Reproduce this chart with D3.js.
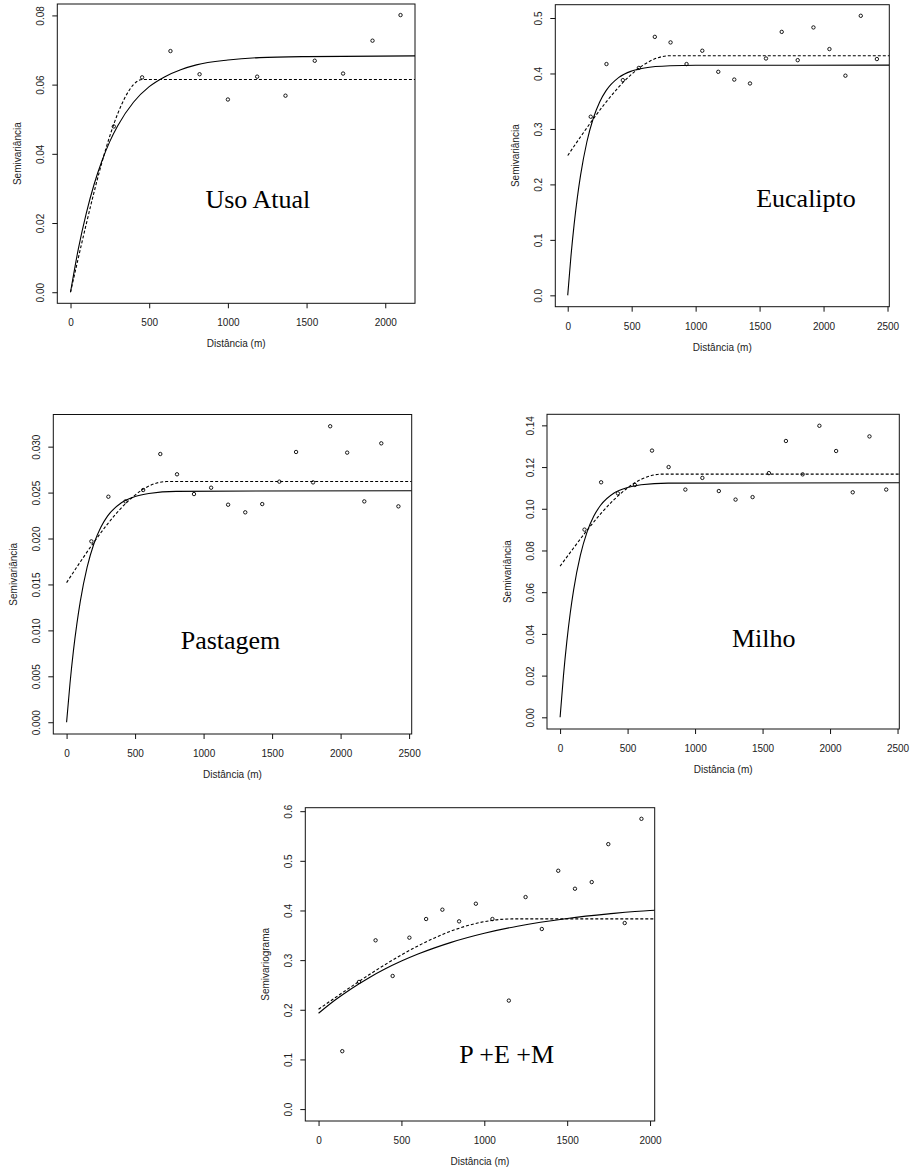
<!DOCTYPE html>
<html>
<head>
<meta charset="utf-8">
<script src="https://cdn.jsdelivr.net/npm/d3@7"></script>
<style>
  html, body { margin: 0; padding: 0; background: #fff; }
  svg { display: block; }
  .tick-label { font-family: "Liberation Sans", Arial, Helvetica, sans-serif; font-size: 10px; fill: #222; }
  .axis-title { font-family: "Liberation Sans", Arial, Helvetica, sans-serif; font-size: 10px; fill: #222; }
  .panel-title { font-family: "Liberation Serif", "Times New Roman", serif; font-size: 26px; fill: #000; }
</style>
</head>
<body>
<svg id="chart" width="911" height="1174"></svg>
<script>
// ---------------- DATA ----------------
// Uso Atual
const usoDist  = [275, 455, 635, 820, 1000, 1186, 1366, 1552, 1732, 1919, 2097];
const usoGamma = [0.0479, 0.0621, 0.0697, 0.0630, 0.0557, 0.0623, 0.0568, 0.0669, 0.0632, 0.0727, 0.0801];
const usoExpD  = [0, 50, 100, 150, 200, 250, 300, 400, 500, 600, 700, 800, 1000, 1200, 1500, 2189];
const usoExpG  = [0, 0.0126, 0.0228, 0.0312, 0.0380, 0.0436, 0.0481, 0.0549, 0.0594, 0.0623, 0.0643, 0.0657, 0.0671, 0.0678, 0.0681, 0.0683];
const usoSphD  = [0, 50, 100, 150, 200, 250, 300, 350, 400, 460, 2189];
const usoSphG  = [0, 0.0100, 0.0197, 0.0290, 0.0376, 0.0452, 0.0516, 0.0566, 0.0600, 0.0615, 0.0615];

// Eucalipto
const eucDist  = [180, 303, 431, 556, 681, 804, 929, 1052, 1177, 1302, 1425, 1550, 1673, 1798, 1921, 2046, 2171, 2291, 2417];
const eucGamma = [0.322, 0.417, 0.388, 0.410, 0.466, 0.456, 0.417, 0.441, 0.403, 0.389, 0.382, 0.427, 0.475, 0.424, 0.483, 0.444, 0.396, 0.504, 0.426];
const eucExpD  = [0, 25, 50, 75, 100, 150, 200, 250, 300, 400, 500, 600, 800, 1000, 2514];
const eucExpG  = [0, 0.0696, 0.1274, 0.1756, 0.2157, 0.2769, 0.3193, 0.3487, 0.3690, 0.3929, 0.4044, 0.4099, 0.4138, 0.4147, 0.415];
const eucSphD  = [0, 100, 200, 300, 400, 500, 600, 700, 800, 2514];
const eucSphG  = [0.252, 0.2856, 0.3181, 0.3485, 0.3758, 0.3988, 0.4165, 0.4280, 0.432, 0.432];

// Pastagem
const pasDist  = [181, 305, 430, 559, 684, 806, 930, 1055, 1179, 1304, 1428, 1553, 1675, 1799, 1924, 2048, 2173, 2297, 2422];
const pasGamma = [0.01969, 0.02455, 0.02404, 0.02528, 0.02920, 0.02699, 0.02484, 0.02553, 0.02368, 0.02285, 0.02375, 0.02619, 0.02942, 0.02611, 0.03222, 0.02935, 0.02404, 0.03036, 0.02350];
const pasExpD  = [0, 25, 50, 75, 100, 150, 200, 250, 300, 400, 500, 600, 800, 2519];
const pasExpG  = [0, 0.00425, 0.00779, 0.01070, 0.01316, 0.01688, 0.01946, 0.02123, 0.02246, 0.02389, 0.02457, 0.02490, 0.02513, 0.0252];
const pasSphD  = [0, 100, 200, 300, 400, 500, 600, 730, 2519];
const pasSphG  = [0.0152, 0.01745, 0.01961, 0.02160, 0.02334, 0.02473, 0.02571, 0.0262, 0.0262];

// Milho
const milDist  = [181, 304, 428, 554, 681, 804, 928, 1054, 1176, 1300, 1426, 1547, 1673, 1797, 1921, 2045, 2168, 2292, 2416];
const milGamma = [0.0900, 0.1127, 0.1074, 0.1114, 0.1279, 0.1200, 0.1092, 0.1148, 0.1085, 0.1044, 0.1056, 0.1171, 0.1325, 0.1165, 0.1398, 0.1277, 0.1079, 0.1347, 0.1092];
const milExpD  = [0, 25, 50, 75, 100, 150, 200, 250, 300, 400, 500, 600, 800, 2513];
const milExpG  = [0, 0.0200, 0.0364, 0.0499, 0.0610, 0.0776, 0.0889, 0.0965, 0.1017, 0.1076, 0.1102, 0.1115, 0.1123, 0.1125];
const milSphD  = [0, 100, 200, 300, 400, 500, 600, 752, 2513];
const milSphG  = [0.0725, 0.0812, 0.0897, 0.0975, 0.1044, 0.1100, 0.1141, 0.1166, 0.1166];

// P +E +M
const pemDist  = [143, 244, 344, 447, 548, 649, 747, 848, 949, 1049, 1148, 1249, 1347, 1446, 1547, 1648, 1748, 1847, 1948];
const pemGamma = [0.1166, 0.2561, 0.3399, 0.2681, 0.3452, 0.3828, 0.4016, 0.3781, 0.4136, 0.3828, 0.2185, 0.4270, 0.3627, 0.4800, 0.4438, 0.4572, 0.5336, 0.3747, 0.5846];
const pemExpD  = [0, 100, 200, 300, 400, 500, 600, 700, 800, 1000, 1200, 1500, 1750, 2000, 2028];
const pemExpG  = [0.193, 0.2196, 0.2430, 0.2637, 0.2820, 0.2981, 0.3123, 0.3247, 0.3358, 0.3541, 0.3683, 0.3839, 0.3931, 0.4000, 0.4004];
const pemSphD  = [0, 100, 200, 300, 400, 500, 600, 700, 800, 900, 1000, 1100, 1170, 2028];
const pemSphG  = [0.201, 0.2243, 0.2472, 0.2695, 0.2907, 0.3106, 0.3287, 0.3448, 0.3586, 0.3696, 0.3775, 0.3821, 0.383, 0.383];

// Axis ranges and ticks
const usoXDomain = [-84, 2189], usoYDomain = [-0.0032, 0.0833];
const eucXDomain = [-97, 2514], eucYDomain = [-0.0205, 0.524];
const pasXDomain = [-97, 2519], pasYDomain = [-0.00128, 0.0335];
const milXDomain = [-97, 2513], milYDomain = [-0.0056, 0.1453];
const pemXDomain = [-80, 2028], pemYDomain = [-0.024, 0.607];

const xTicks2000 = [0, 500, 1000, 1500, 2000];
const xTicks2500 = [0, 500, 1000, 1500, 2000, 2500];
const usoYTicks = [0, 0.02, 0.04, 0.06, 0.08];
const eucYTicks = [0, 0.1, 0.2, 0.3, 0.4, 0.5];
const pasYTicks = [0, 0.005, 0.010, 0.015, 0.020, 0.025, 0.030];
const milYTicks = [0, 0.02, 0.04, 0.06, 0.08, 0.10, 0.12, 0.14];
const pemYTicks = [0, 0.1, 0.2, 0.3, 0.4, 0.5, 0.6];

const panelTitles = ["Uso Atual", "Eucalipto", "Pastagem", "Milho", "P +E +M"];
const yTitles = ["Semivariância", "Semivariância", "Semivariância", "Semivariância", "Semivariograma"];
const xTitle = "Distância (m)";

// ---------------- LAYOUT ----------------
const panels = [
  { title: panelTitles[0], yTitle: yTitles[0], dist: usoDist, gamma: usoGamma, expD: usoExpD, expG: usoExpG, sphD: usoSphD, sphG: usoSphG,
    xDom: usoXDomain, yDom: usoYDomain, xT: xTicks2000, yT: usoYTicks, yFmt: d3.format(".2f"),
    box: { l: 57.3, t: 4, r: 415, b: 303.3 }, tp: { x: 257.8, y: 208.3 } },
  { title: panelTitles[1], yTitle: yTitles[1], dist: eucDist, gamma: eucGamma, expD: eucExpD, expG: eucExpG, sphD: eucSphD, sphG: eucSphG,
    xDom: eucXDomain, yDom: eucYDomain, xT: xTicks2500, yT: eucYTicks, yFmt: d3.format(".1f"),
    box: { l: 555.3, t: 4.7, r: 889.3, b: 306.7 }, tp: { x: 806, y: 207.3 } },
  { title: panelTitles[2], yTitle: yTitles[2], dist: pasDist, gamma: pasGamma, expD: pasExpD, expG: pasExpG, sphD: pasSphD, sphG: pasSphG,
    xDom: pasXDomain, yDom: pasYDomain, xT: xTicks2500, yT: pasYTicks, yFmt: d3.format(".3f"),
    box: { l: 53.3, t: 414.5, r: 411.7, b: 734 }, tp: { x: 230.5, y: 649.3 } },
  { title: panelTitles[3], yTitle: yTitles[3], dist: milDist, gamma: milGamma, expD: milExpD, expG: milExpG, sphD: milSphD, sphG: milSphG,
    xDom: milXDomain, yDom: milYDomain, xT: xTicks2500, yT: milYTicks, yFmt: d3.format(".2f"),
    box: { l: 547, t: 414.3, r: 899.3, b: 729 }, tp: { x: 763.7, y: 646.7 } },
  { title: panelTitles[4], yTitle: yTitles[4], dist: pemDist, gamma: pemGamma, expD: pemExpD, expG: pemExpG, sphD: pemSphD, sphG: pemSphG,
    xDom: pemXDomain, yDom: pemYDomain, xT: xTicks2000, yT: pemYTicks, yFmt: d3.format(".1f"),
    box: { l: 305.3, t: 807.7, r: 654.7, b: 1121 }, tp: { x: 506.7, y: 1063.3 } }
];

const svg = d3.select("#chart");

panels.forEach((p, i) => {
  const b = p.box;
  const x = d3.scaleLinear().domain(p.xDom).range([b.l, b.r]);
  const y = d3.scaleLinear().domain(p.yDom).range([b.b, b.t]);
  const g = svg.append("g");

  const clipId = "clip" + i;
  svg.append("clipPath").attr("id", clipId)
    .append("rect").attr("x", b.l).attr("y", b.t).attr("width", b.r - b.l).attr("height", b.b - b.t);

  // box
  g.append("rect").attr("x", b.l).attr("y", b.t).attr("width", b.r - b.l).attr("height", b.b - b.t)
    .attr("fill", "none").attr("stroke", "#111").attr("stroke-width", 1);

  // x axis ticks
  const xa = g.append("g").attr("transform", `translate(0,${b.b})`)
    .call(d3.axisBottom(x).tickValues(p.xT).tickSize(5).tickPadding(0).tickFormat(d3.format("d")));
  xa.select(".domain").remove();
  xa.selectAll("line").attr("stroke", "#111");
  xa.selectAll("text").attr("class", "tick-label").attr("y", 23).attr("dy", null)
    .style("font-size", null).style("font-family", null);
  xa.attr("font-size", null).attr("font-family", null);

  // y axis ticks
  const ya = g.append("g").attr("transform", `translate(${b.l},0)`)
    .call(d3.axisLeft(y).tickValues(p.yT).tickSize(5).tickFormat(p.yFmt));
  ya.select(".domain").remove();
  ya.selectAll("line").attr("stroke", "#111");
  ya.attr("font-size", null).attr("font-family", null);
  ya.selectAll("text").attr("class", "tick-label")
    .attr("x", null).attr("dy", null)
    .attr("text-anchor", "middle")
    .attr("transform", "translate(-13,0) rotate(-90)");

  // axis titles
  g.append("text").attr("class", "axis-title")
    .attr("x", (b.l + b.r) / 2).attr("y", b.b + 44)
    .attr("text-anchor", "middle").text(xTitle);
  g.append("text").attr("class", "axis-title")
    .attr("text-anchor", "middle")
    .attr("transform", `translate(${b.l - 36.5},${(b.t + b.b) / 2}) rotate(-90)`)
    .text(p.yTitle);

  // model lines
  const line = d3.line().x(d => x(d[0])).y(d => y(d[1])).curve(d3.curveMonotoneX);
  const lg = g.append("g").attr("clip-path", `url(#${clipId})`);
  lg.append("path").datum(p.expD.map((d, k) => [d, p.expG[k]]))
    .attr("d", line).attr("fill", "none").attr("stroke", "#000").attr("stroke-width", 1.1);
  lg.append("path").datum(p.sphD.map((d, k) => [d, p.sphG[k]]))
    .attr("d", line).attr("fill", "none").attr("stroke", "#000").attr("stroke-width", 1.1)
    .attr("stroke-dasharray", "3,2");

  // empirical points
  lg.selectAll("circle").data(p.dist.map((d, k) => [d, p.gamma[k]])).enter()
    .append("circle").attr("cx", d => x(d[0])).attr("cy", d => y(d[1]))
    .attr("r", 1.7).attr("fill", "none").attr("stroke", "#000").attr("stroke-width", 0.9);

  // panel title
  g.append("text").attr("class", "panel-title")
    .attr("x", p.tp.x).attr("y", p.tp.y).attr("text-anchor", "middle").text(p.title);
});
</script>
</body>
</html>
